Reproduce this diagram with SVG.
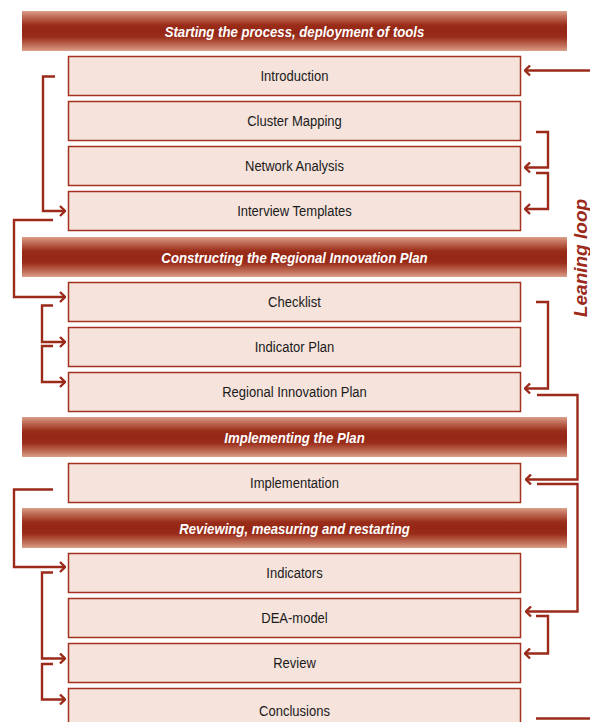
<svg xmlns="http://www.w3.org/2000/svg" width="590" height="722" viewBox="0 0 590 722">
  <defs>
    <linearGradient id="band" x1="0" y1="0" x2="0" y2="1">
      <stop offset="0" stop-color="#dca08c"/>
      <stop offset="0.1" stop-color="#c77a63"/>
      <stop offset="0.35" stop-color="#9a2d1a"/>
      <stop offset="0.5" stop-color="#952615"/>
      <stop offset="0.65" stop-color="#9a2d1a"/>
      <stop offset="0.9" stop-color="#c77a63"/>
      <stop offset="1" stop-color="#dca08c"/>
    </linearGradient>
    <marker id="chev" viewBox="-7 -6 8 12" markerWidth="8" markerHeight="12" refX="0" refY="0" orient="auto" markerUnits="userSpaceOnUse">
      <path d="M-5,-5 L0,0 L-5,5" fill="none" stroke="#9b2a1a" stroke-width="2.4"/>
    </marker>
  </defs>
  <style>
    .band { fill: url(#band); }
    /* condensed look: horizontal squeeze about the centre line x=294.5 */
    .band-label { font-family: "Liberation Sans", Arial, sans-serif; font-size: 15.5px; font-weight: bold; font-style: italic; fill: #ffffff; text-anchor: middle; transform: matrix(0.85, 0, 0, 1, 44.18, 0); }
    .box { fill: #f5e3dc; stroke: #a3321f; stroke-width: 1.5; }
    .label { font-family: "Liberation Sans", Arial, sans-serif; font-size: 15.5px; fill: #1a1a1a; text-anchor: middle; transform: matrix(0.84, 0, 0, 1, 47.12, 0); }
    .link { fill: none; stroke: #9b2a1a; stroke-width: 2.4; }
    .loop { font-family: "Liberation Sans", Arial, sans-serif; font-size: 19px; font-weight: bold; font-style: italic; fill: #9b2a1a; text-anchor: middle; }
  </style>

  <!-- phase bands -->
  <g id="phase-start">
    <rect class="band" x="22" y="11" width="545" height="40"/>
    <text class="band-label" x="294.5" y="37">Starting the process, deployment of tools</text>
  </g>
  <g id="phase-construct">
    <rect class="band" x="22" y="237" width="545" height="40"/>
    <text class="band-label" x="294.5" y="263">Constructing the Regional Innovation Plan</text>
  </g>
  <g id="phase-implement">
    <rect class="band" x="22" y="417" width="545" height="40"/>
    <text class="band-label" x="294.5" y="443">Implementing the Plan</text>
  </g>
  <g id="phase-review">
    <rect class="band" x="22" y="508" width="545" height="40"/>
    <text class="band-label" x="294.5" y="534">Reviewing, measuring and restarting</text>
  </g>

  <!-- steps -->
  <g id="introduction">
    <rect class="box" x="68.5" y="56.5" width="452" height="39"/>
    <text class="label" x="294.5" y="81.5">Introduction</text>
  </g>
  <g id="cluster-mapping">
    <rect class="box" x="68.5" y="101.5" width="452" height="39"/>
    <text class="label" x="294.5" y="126.5">Cluster Mapping</text>
  </g>
  <g id="network-analysis">
    <rect class="box" x="68.5" y="146.5" width="452" height="39"/>
    <text class="label" x="294.5" y="171.5">Network Analysis</text>
  </g>
  <g id="interview-templates">
    <rect class="box" x="68.5" y="191.5" width="452" height="39"/>
    <text class="label" x="294.5" y="216.5">Interview Templates</text>
  </g>
  <g id="checklist">
    <rect class="box" x="68.5" y="282.5" width="452" height="39"/>
    <text class="label" x="294.5" y="307.5">Checklist</text>
  </g>
  <g id="indicator-plan">
    <rect class="box" x="68.5" y="327.5" width="452" height="39"/>
    <text class="label" x="294.5" y="352.5">Indicator Plan</text>
  </g>
  <g id="regional-innovation-plan">
    <rect class="box" x="68.5" y="372.5" width="452" height="39"/>
    <text class="label" x="294.5" y="397.5">Regional Innovation Plan</text>
  </g>
  <g id="implementation">
    <rect class="box" x="68.5" y="463.5" width="452" height="39"/>
    <text class="label" x="294.5" y="488.5">Implementation</text>
  </g>
  <g id="indicators">
    <rect class="box" x="68.5" y="553.5" width="452" height="39"/>
    <text class="label" x="294.5" y="578.5">Indicators</text>
  </g>
  <g id="dea-model">
    <rect class="box" x="68.5" y="598.5" width="452" height="39"/>
    <text class="label" x="294.5" y="623.5">DEA-model</text>
  </g>
  <g id="review">
    <rect class="box" x="68.5" y="643.5" width="452" height="39"/>
    <text class="label" x="294.5" y="668.5">Review</text>
  </g>
  <g id="conclusions">
    <rect class="box" x="68.5" y="688.5" width="452" height="39"/>
    <text class="label" x="294.5" y="716">Conclusions</text>
  </g>

  <!-- loop caption -->
  <g id="leaning-loop">
    <text class="loop" transform="translate(587,258) rotate(-90)">Leaning loop</text>
  </g>

  <!-- connectors -->
  <g id="connectors">
    <!-- left side -->
    <path class="link" d="M55,76.5 H43 V211 H65" marker-end="url(#chev)"/>
    <path class="link" d="M53,220 H14 V297 H65" marker-end="url(#chev)"/>
    <path class="link" d="M53,305.5 H42 V342 H65" marker-end="url(#chev)"/>
    <path class="link" d="M53,346 H42 V382 H65" marker-end="url(#chev)"/>
    <path class="link" d="M53,489.5 H14 V567 H65" marker-end="url(#chev)"/>
    <path class="link" d="M53,572.5 H42 V658.5 H65" marker-end="url(#chev)"/>
    <path class="link" d="M53,664 H42 V699.5 H65" marker-end="url(#chev)"/>
    <!-- right side -->
    <path class="link" d="M590,70.5 H525" marker-end="url(#chev)"/>
    <path class="link" d="M536,132 H548 V167.5 H525" marker-end="url(#chev)"/>
    <path class="link" d="M536,173 H548 V209 H525" marker-end="url(#chev)"/>
    <path class="link" d="M536,302 H548 V388.5 H525" marker-end="url(#chev)"/>
    <path class="link" d="M537,395 H577.5 V479.5 H526" marker-end="url(#chev)"/>
    <path class="link" d="M537,484 H577.5 V611.5 H526" marker-end="url(#chev)"/>
    <path class="link" d="M536,616 H548 V653.5 H525" marker-end="url(#chev)"/>
    <path class="link" d="M536,718.5 H590"/>
  </g>
</svg>
